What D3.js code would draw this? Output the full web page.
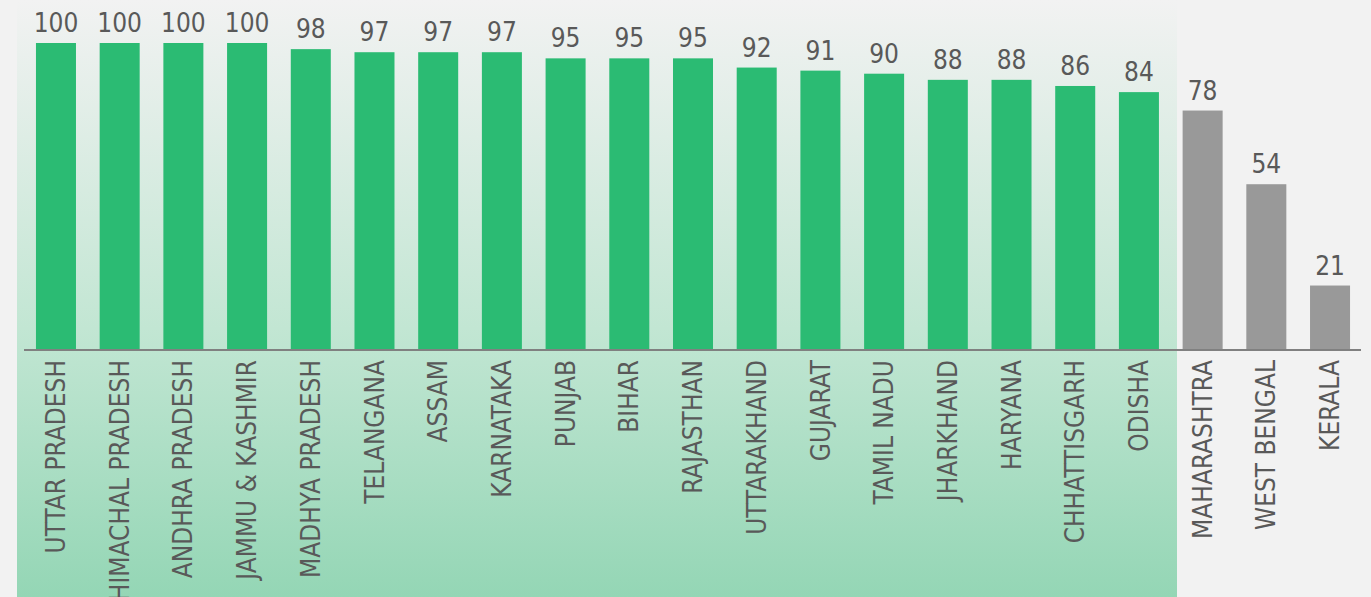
<!DOCTYPE html>
<html><head><meta charset="utf-8">
<script src="https://cdn.jsdelivr.net/npm/d3@7"></script>
<style>html,body{margin:0;padding:0;background:#f2f2f2;overflow:hidden}</style>
</head><body>
<svg id="c" width="1371" height="597"></svg>
<script>
const categories = ["UTTAR PRADESH","HIMACHAL PRADESH","ANDHRA PRADESH","JAMMU & KASHMIR","MADHYA PRADESH","TELANGANA","ASSAM","KARNATAKA","PUNJAB","BIHAR","RAJASTHAN","UTTARAKHAND","GUJARAT","TAMIL NADU","JHARKHAND","HARYANA","CHHATTISGARH","ODISHA","MAHARASHTRA","WEST BENGAL","KERALA"];
const values = [100,100,100,100,98,97,97,97,95,95,95,92,91,90,88,88,86,84,78,54,21];
const highlighted = [true,true,true,true,true,true,true,true,true,true,true,true,true,true,true,true,true,true,false,false,false];

const svg = d3.select("#c");
const W = 1371, H = 597;
const font = "'DejaVu Sans Condensed','DejaVu Sans',sans-serif";

svg.append("rect").attr("width",W).attr("height",H).attr("fill","#f2f2f2");

const defs = svg.append("defs");
const g = defs.append("linearGradient").attr("id","pg").attr("x1",0).attr("y1",0).attr("x2",0).attr("y2",1);
g.append("stop").attr("offset","0").attr("stop-color","#f2f2f2");
g.append("stop").attr("offset","0.55").attr("stop-color","#c2e6d3");
g.append("stop").attr("offset","1").attr("stop-color","#94d6b5");

const x = d3.scaleBand().domain(categories).range([24.5,1361.5]).paddingInner(0.372).paddingOuter(0.18);
const y = d3.scaleLinear().domain([0,100]).range([350,43]);

// highlight panel behind green bars
svg.append("rect").attr("x",17).attr("y",0).attr("width",1177-17).attr("height",H).attr("fill","url(#pg)");

svg.selectAll("rect.bar").data(categories).join("rect").attr("class","bar")
  .attr("x",d=>x(d)).attr("width",x.bandwidth())
  .attr("y",(d,i)=>y(values[i])).attr("height",(d,i)=>y(0)-y(values[i]))
  .attr("fill",(d,i)=>highlighted[i]?"#2bbb73":"#999999");

svg.selectAll("text.val").data(categories).join("text").attr("class","val")
  .attr("x",d=>x(d)+x.bandwidth()/2).attr("y",(d,i)=>y(values[i])-11)
  .attr("text-anchor","middle").attr("font-family",font).attr("font-size",26)
  .attr("fill","#595959").text((d,i)=>values[i]);

// axis
const axis = d3.axisBottom(x).tickSize(0).tickPadding(0);
const ax = svg.append("g").attr("transform","translate(0,350)").call(axis);
ax.select(".domain").attr("stroke","#808080").attr("stroke-width",2).attr("d","M24,0H1361");
ax.selectAll(".tick text")
  .attr("font-family",font).attr("font-size",26).attr("fill","#595959")
  .attr("text-anchor","end").attr("transform","rotate(-90)")
  .attr("x",-10).attr("y",0).attr("dy","0.35em");
</script>
</body></html>
